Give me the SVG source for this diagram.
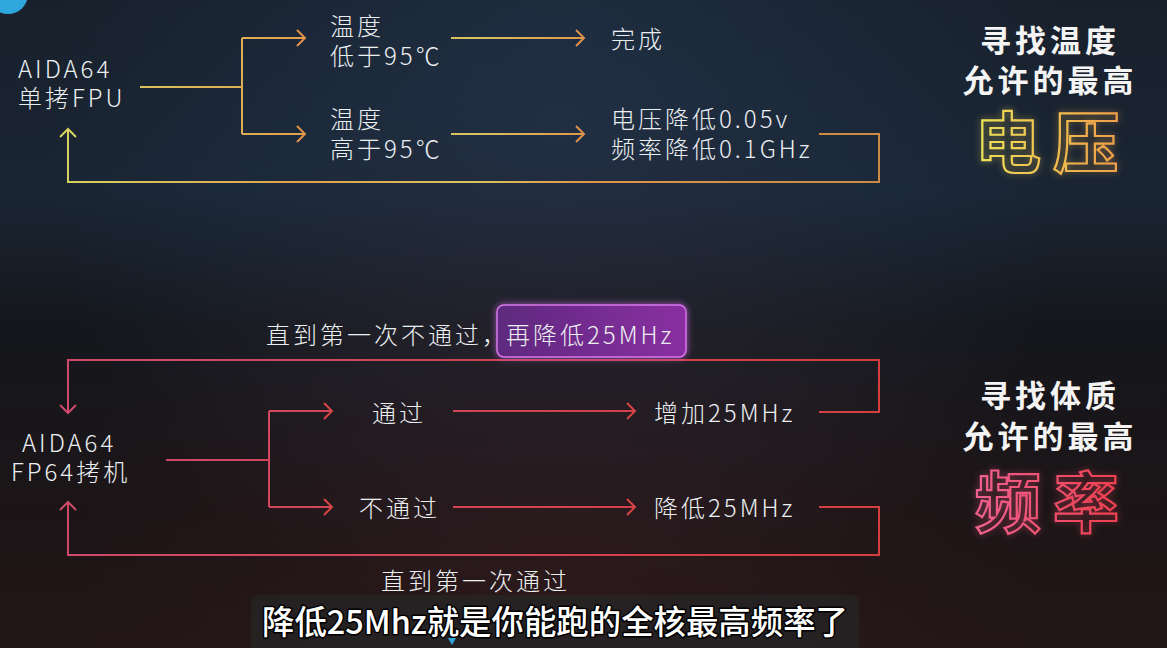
<svg xmlns="http://www.w3.org/2000/svg" width="1167" height="648" viewBox="0 0 1167 648">
<defs>
<linearGradient id="bg" x1="0" y1="0" x2="0" y2="1">
<stop offset="0" stop-color="#18202b"/>
<stop offset="0.3" stop-color="#1a2533"/>
<stop offset="0.5" stop-color="#15171c"/>
<stop offset="0.8" stop-color="#1c1517"/>
<stop offset="1" stop-color="#231617"/>
</linearGradient>
<radialGradient id="glowTop" cx="560" cy="120" r="520" gradientUnits="userSpaceOnUse">
<stop offset="0" stop-color="#243a55" stop-opacity="0.55"/>
<stop offset="1" stop-color="#243a55" stop-opacity="0"/>
</radialGradient>
<radialGradient id="glowBot" cx="560" cy="560" r="480" gradientUnits="userSpaceOnUse">
<stop offset="0" stop-color="#3a1a1a" stop-opacity="0.45"/>
<stop offset="1" stop-color="#3a1a1a" stop-opacity="0"/>
</radialGradient>
<linearGradient id="gTop" x1="60" y1="0" x2="880" y2="0" gradientUnits="userSpaceOnUse">
<stop offset="0" stop-color="#d6d262"/>
<stop offset="0.3" stop-color="#e0a050"/>
<stop offset="0.5" stop-color="#d8c464"/>
<stop offset="0.65" stop-color="#e0944a"/>
<stop offset="1" stop-color="#c98a42"/>
</linearGradient>
<linearGradient id="gBot" x1="60" y1="0" x2="880" y2="0" gradientUnits="userSpaceOnUse">
<stop offset="0" stop-color="#cf4a6a"/>
<stop offset="1" stop-color="#d43e3e"/>
</linearGradient>
<linearGradient id="gVolt" x1="980" y1="0" x2="1115" y2="0" gradientUnits="userSpaceOnUse">
<stop offset="0" stop-color="#eee058"/>
<stop offset="1" stop-color="#f0a048"/>
</linearGradient>
<linearGradient id="gFreq" x1="980" y1="0" x2="1115" y2="0" gradientUnits="userSpaceOnUse">
<stop offset="0" stop-color="#f0608e"/>
<stop offset="1" stop-color="#f04050"/>
</linearGradient>
<linearGradient id="gBox" x1="0" y1="0" x2="1" y2="0">
<stop offset="0" stop-color="#5e2a7e"/>
<stop offset="1" stop-color="#8a2fa2"/>
</linearGradient>
<filter id="neon" x="-30%" y="-30%" width="160%" height="160%">
<feGaussianBlur in="SourceGraphic" stdDeviation="3.5" result="b"/>
<feComponentTransfer in="b" result="b2"><feFuncA type="linear" slope="0.55"/></feComponentTransfer>
<feMerge><feMergeNode in="b2"/><feMergeNode in="SourceGraphic"/></feMerge>
</filter>
<filter id="soft" x="-20%" y="-40%" width="140%" height="180%">
<feGaussianBlur in="SourceGraphic" stdDeviation="3" result="b"/>
<feMerge><feMergeNode in="b"/><feMergeNode in="SourceGraphic"/></feMerge>
</filter>
<marker id="mOrg" markerUnits="userSpaceOnUse" markerWidth="20" markerHeight="20" refX="10" refY="10" orient="auto" overflow="visible">
<path d="M2,2 L10,10 L2,18" fill="none" stroke="#e0924a" stroke-width="2"/>
</marker>
<marker id="mYel" markerUnits="userSpaceOnUse" markerWidth="20" markerHeight="20" refX="10" refY="10" orient="auto" overflow="visible">
<path d="M2,2 L10,10 L2,18" fill="none" stroke="#d6d262" stroke-width="2"/>
</marker>
<marker id="mRed" markerUnits="userSpaceOnUse" markerWidth="20" markerHeight="20" refX="10" refY="10" orient="auto" overflow="visible">
<path d="M2,2 L10,10 L2,18" fill="none" stroke="#d84444" stroke-width="2"/>
</marker>
<marker id="mPink" markerUnits="userSpaceOnUse" markerWidth="20" markerHeight="20" refX="10" refY="10" orient="auto" overflow="visible">
<path d="M2,2 L10,10 L2,18" fill="none" stroke="#d04a6c" stroke-width="2"/>
</marker>
</defs>
<style>
.lbl{font-family:"Noto Sans CJK SC","Noto Sans",sans-serif;font-weight:300;font-size:24px;fill:#eceff2;letter-spacing:3px}
.title{font-family:"Noto Sans CJK SC",sans-serif;font-weight:700;font-size:31px;fill:#f4f4f4;text-anchor:middle;letter-spacing:4px}
.big{font-family:"Noto Sans CJK SC",sans-serif;font-weight:700;font-size:66px;fill:none;stroke-width:2.2;text-anchor:middle;letter-spacing:12px}
.ct{fill:none;stroke-width:2}
.sub{font-family:"Noto Sans CJK SC",sans-serif;font-weight:500;font-size:33px;fill:#ffffff;stroke:#000;stroke-width:3;paint-order:stroke;stroke-linejoin:round}
</style>
<rect width="1167" height="648" fill="url(#bg)"/>
<rect width="1167" height="648" fill="url(#glowTop)"/>
<rect width="1167" height="648" fill="url(#glowBot)"/>
<circle cx="8" cy="-6" r="20" fill="#2ea8dc"/>

<g id="connectors">
<path class="ct" stroke="url(#gTop)" d="M140,87 H242"/>
<path class="ct" stroke="url(#gTop)" d="M242,38 V134"/>
<path class="ct" stroke="url(#gTop)" d="M242,38 H305" marker-end="url(#mOrg)"/>
<path class="ct" stroke="url(#gTop)" d="M242,134 H305" marker-end="url(#mOrg)"/>
<path class="ct" stroke="url(#gTop)" d="M451,38 H584" marker-end="url(#mOrg)"/>
<path class="ct" stroke="url(#gTop)" d="M451,134 H584" marker-end="url(#mOrg)"/>
<path class="ct" stroke="url(#gTop)" d="M819,134 H879 V182 H68 V129" marker-end="url(#mYel)"/>
<path class="ct" stroke="url(#gBot)" d="M819,412 H879 V360 H68 V413" marker-end="url(#mPink)"/>
<path class="ct" stroke="url(#gBot)" d="M166,460 H269"/>
<path class="ct" stroke="url(#gBot)" d="M269,411 V507"/>
<path class="ct" stroke="url(#gBot)" d="M269,411 H332" marker-end="url(#mRed)"/>
<path class="ct" stroke="url(#gBot)" d="M269,507 H332" marker-end="url(#mRed)"/>
<path class="ct" stroke="url(#gBot)" d="M453,411 H635" marker-end="url(#mRed)"/>
<path class="ct" stroke="url(#gBot)" d="M453,507 H635" marker-end="url(#mRed)"/>
<path class="ct" stroke="url(#gBot)" d="M819,507 H879 V555 H68 V502" marker-end="url(#mPink)"/>
</g>

<g id="n-aida-fpu"><text class="lbl" x="18" y="78">AIDA64</text><text class="lbl" x="18" y="107">单拷FPU</text></g>
<g id="n-low"><text class="lbl" x="330" y="35">温度</text><text class="lbl" x="330" y="65">低于95℃</text></g>
<g id="n-high"><text class="lbl" x="330" y="128">温度</text><text class="lbl" x="330" y="158">高于95℃</text></g>
<g id="n-done"><text class="lbl" x="611" y="48">完成</text></g>
<g id="n-reduce"><text class="lbl" x="611" y="128">电压降低0.05v</text><text class="lbl" x="611" y="158">频率降低0.1GHz</text></g>

<g id="t-voltage">
<text class="title" x="1050" y="52">寻找温度</text>
<text class="title" x="1050" y="92">允许的最高</text>
<text class="big" x="1053" y="167" stroke="url(#gVolt)" filter="url(#neon)">电压</text>
</g>

<g id="n-loop-top">
<text class="lbl" x="266" y="344">直到第一次不通过，</text>
<g id="n-box">
<rect x="497" y="305" width="189" height="52" rx="7" fill="url(#gBox)" stroke="#d877ea" stroke-width="1.5" filter="url(#soft)"/>
<text class="lbl" x="506" y="344">再降低25MHz</text>
</g>
</g>
<g id="n-aida-fp64"><text class="lbl" x="22" y="452">AIDA64</text><text class="lbl" x="11" y="481">FP64拷机</text></g>
<g id="n-pass"><text class="lbl" x="372" y="422">通过</text></g>
<g id="n-fail"><text class="lbl" x="359" y="517">不通过</text></g>
<g id="n-inc"><text class="lbl" x="654" y="422">增加25MHz</text></g>
<g id="n-dec"><text class="lbl" x="654" y="517">降低25MHz</text></g>
<g id="n-loop-bot"><text class="lbl" x="381" y="590">直到第一次通过</text></g>

<g id="t-freq">
<text class="title" x="1050" y="407">寻找体质</text>
<text class="title" x="1050" y="448">允许的最高</text>
<text class="big" x="1053" y="527" stroke="url(#gFreq)" filter="url(#neon)">频率</text>
</g>

<g id="subtitle">
<rect x="251" y="595" width="608" height="60" rx="8" fill="#262626" fill-opacity="0.75"/>
<text class="sub" x="262" y="634" textLength="586" lengthAdjust="spacingAndGlyphs">降低25Mhz就是你能跑的全核最高频率了</text>
<path d="M448,638 L456,638 L452,645 Z" fill="#2ea8dc"/>
</g>
</svg>
